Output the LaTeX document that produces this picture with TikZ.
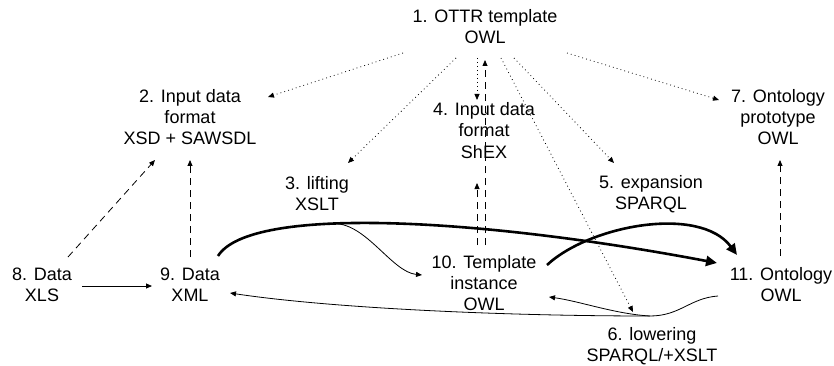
\documentclass[tikz,border=0pt]{standalone}
\usepackage{fontspec}
\setmainfont{Liberation Sans}
\usetikzlibrary{arrows.meta,calc}
\begin{document}
\begin{tikzpicture}[x=1pt,y=-1pt,
  lbl/.style={align=center,inner sep=0pt,anchor=base,font=\fontsize{18}{21}\selectfont},
  tipped/.style={-{Triangle[length=6pt,width=5pt]}},
  dotline/.style={tipped,line width=0.8pt,dash pattern=on 0.8pt off 3.2pt},
  dashline/.style={tipped,line width=0.8pt,dash pattern=on 7pt off 5pt},
  thinline/.style={tipped,line width=0.8pt},
  thickline/.style={-{Triangle[length=11pt,width=10pt]},line width=2.6pt},
]
\useasboundingbox (0,0) rectangle (834,366);

\node[lbl] (n1) at (485,44) {1. OTTR template\\OWL};
\node[lbl] (n2) at (190,145) {2. Input data\\format\\XSD + SAWSDL};
\node[lbl] (n3) at (317,210) {3. lifting\\XSLT};
\node[lbl] (n4) at (484,158) {4. Input data\\format\\ShEX};
\node[lbl] (n5) at (651,209) {5. expansion\\SPARQL};
\node[lbl] (n6) at (652,361) {6. lowering\\SPARQL/+XSLT};
\node[lbl] (n7) at (778,145) {7. Ontology\\prototype\\OWL};
\node[lbl] (n8) at (42,301) {8. Data\\XLS};
\node[lbl] (n9) at (190,301) {9. Data\\XML};
\node[lbl] (n10) at (484,310) {10. Template\\instance\\OWL};
\node[lbl] (n11) at (781,301) {11. Ontology\\OWL};

% dotted edges from 1
\draw[dotline] ([shift={(-82,9)}]n1.base) -- ([shift={(78,-48)}]n2.base);
\draw[dotline] ([shift={(-29,14)}]n1.base) -- ([shift={(31,-47)}]n3.base);
\draw[dotline] ([shift={(-8,14)}]n1.base) -- ([shift={(-7,-58)}]n4.base);
\draw[dotline] ([shift={(29,14)}]n1.base) -- ([shift={(-37,-46)}]n5.base);
\draw[dotline] ([shift={(16,14)}]n1.base) -- ([shift={(-19,-49)}]n6.base);
\draw[dotline] ([shift={(82,9)}]n1.base) -- ([shift={(-59,-45)}]n7.base);

% dashed edges
\draw[dashline] ([shift={(-7,-65)}]n10.base) -- ([shift={(-7,25)}]n4.base);
\draw[dashline] ([shift={(1,-65)}]n10.base) -- ([shift={(0,16)}]n1.base);
\draw[dashline] ([shift={(26,-44)}]n8.base) -- ([shift={(-35,15)}]n2.base);
\draw[dashline] ([shift={(0,-44)}]n9.base) -- ([shift={(0,15)}]n2.base);
\draw[dashline] ([shift={(-1,-45)}]n11.base) -- ([shift={(2,15)}]n7.base);

% solid 8 -> 9
\draw[thinline] ([shift={(40,-15)}]n8.base) -- ([shift={(-38,-15)}]n9.base);

% thick 9 -> 11
\draw[thickline] ([shift={(28,-45)}]n9.base) .. controls +(32,-51) and +(-237,-45) .. ([shift={(-64,-38)}]n11.base) coordinate[pos=0.39] (b1);
% lifting 9 -> 10 (branch)
\draw[thinline] (b1) .. controls +(32,0) and +(-30,-3) .. ([shift={(-62,-35)}]n10.base);

% thick 10 -> 11
\draw[thickline] ([shift={(63,-45)}]n10.base) .. controls +(43,-40) and +(-37,-50) .. ([shift={(-44,-46)}]n11.base);

% lowering 11 -> 9 and 11 -> 10
\draw[thinline] ([shift={(-63,-5)}]n11.base) .. controls +(-28,2) and +(30,0) .. ([shift={(-2,-45)}]n6.base) coordinate (low)
  .. controls +(-150,0) and +(100,15) .. ([shift={(40,-8)}]n9.base);
\draw[thinline] (low) .. controls +(-35,-2) and +(30,4) .. ([shift={(65,-13)}]n10.base);

\end{tikzpicture}
\end{document}
